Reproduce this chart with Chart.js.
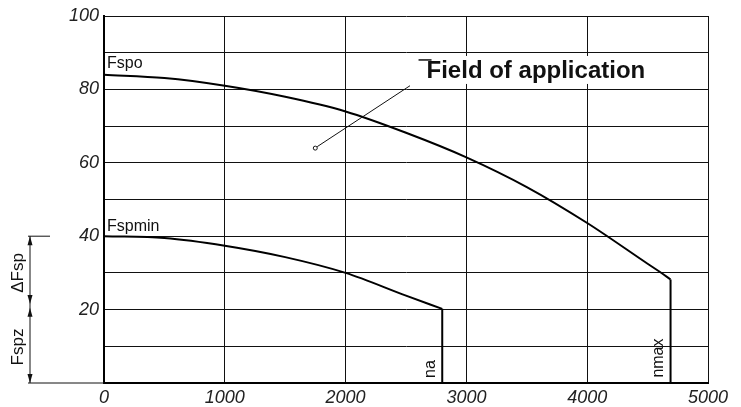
<!DOCTYPE html>
<html>
<head>
<meta charset="utf-8">
<script src="https://cdn.jsdelivr.net/npm/chart.js@4"></script>
<style>
  html, body { margin: 0; padding: 0; background: #fff; }
  #wrap { width: 741px; height: 407px; }
</style>
</head>
<body>
<div id="wrap"><canvas id="chart" width="741" height="407"></canvas></div>
<script>
// Speed n (x) and spring force Fsp (y)
const fspoSpeed = [0, 500, 1000, 1500, 2000, 2500, 3000, 3500, 4000, 4500, 4600, 4690];
const fspoForce = [84, 83.1, 81, 78, 74, 68.2, 61.5, 53.4, 43.6, 32.5, 30.3, 28.2];
const fspminSpeed = [0, 500, 1000, 1500, 2000, 2500, 2800];
const fspminForce = [40, 39.5, 37.4, 34.3, 30, 23.8, 20.2];
// vertical limits: nmax and na drop to the axis
const nmaxDrop = [4690, 28.2, 0];
const naDrop = [2800, 20.2, 0];
const xTicks = [0, 1000, 2000, 3000, 4000, 5000];
const yTicks = [20, 40, 60, 80, 100];

const toPoints = (xs, ys) => xs.map((x, i) => ({ x: x, y: ys[i] }));
const dropPoints = d => [{ x: d[0], y: d[1] }, { x: d[0], y: d[2] }];

// drawing notes: curve names, field label, leader, dimension chain on the left
const notesPlugin = {
    id: 'notes',
    afterDraw(chart) {
        const ctx = chart.ctx;
        const xs = chart.scales.x;
        const ys = chart.scales.y;
        const px = v => xs.getPixelForValue(v);
        const py = v => ys.getPixelForValue(v);
        ctx.save();
        ctx.fillStyle = '#111';
        ctx.strokeStyle = '#111';

        // curve names
        ctx.font = '16px "Liberation Sans", Arial, sans-serif';
        ctx.textBaseline = 'middle';
        ctx.textAlign = 'left';
        ctx.fillText('Fspo', px(25), py(87));
        ctx.fillText('Fspmin', px(25), py(42.6));

        // field of application label on a white patch
        ctx.font = 'bold 24px "Liberation Sans", Arial, sans-serif';
        const label = 'Field of application';
        const lx = px(2670), ly = py(85.3);
        const w = ctx.measureText(label).width;
        ctx.fillStyle = '#fff';
        ctx.fillRect(lx - 6, ly - 14, w + 26, 28);
        ctx.fillStyle = '#111';
        ctx.fillText(label, lx, ly + 1);
        ctx.lineWidth = 1.5;
        ctx.beginPath();
        ctx.moveTo(lx - 8, ly - 10);
        ctx.lineTo(lx + 5, ly - 10);
        ctx.stroke();

        // leader line with small circle
        ctx.lineWidth = 1;
        ctx.beginPath();
        ctx.moveTo(px(2533), py(81));
        ctx.lineTo(px(1765), py(64.4));
        ctx.stroke();
        ctx.beginPath();
        ctx.arc(px(1749), py(64), 2, 0, Math.PI * 2);
        ctx.stroke();

        // rotated speed marks
        ctx.font = '16px "Liberation Sans", Arial, sans-serif';
        const rot = (t, x, y) => {
            ctx.save();
            ctx.translate(x, y);
            ctx.rotate(-Math.PI / 2);
            ctx.textAlign = 'center';
            ctx.textBaseline = 'middle';
            ctx.fillText(t, 0, 0);
            ctx.restore();
        };
        rot('na', px(2700), py(3.8));
        rot('nmax', px(4590), py(6.8));

        // dimension chain: Fspz (0..20) and ΔFsp (20..40)
        const dx = 30;
        ctx.lineWidth = 1;
        ctx.beginPath();
        ctx.moveTo(28, py(40)); ctx.lineTo(50, py(40));
        ctx.moveTo(28, py(0)); ctx.lineTo(xs.left, py(0));
        ctx.moveTo(dx, py(40)); ctx.lineTo(dx, py(0));
        ctx.stroke();
        const arrow = (y, dir) => {
            ctx.beginPath();
            ctx.moveTo(dx, y);
            ctx.lineTo(dx - 2.5, y + dir * 9);
            ctx.lineTo(dx + 2.5, y + dir * 9);
            ctx.closePath();
            ctx.fill();
        };
        arrow(py(40), 1);
        arrow(py(21.5), -1);
        arrow(py(20.5), 1);
        arrow(py(0), -1);
        ctx.font = '17px "Liberation Sans", Arial, sans-serif';
        rot('\u0394Fsp', 18, py(30));
        rot('Fspz', 18, py(9.8));
        ctx.restore();
    }
};

const tickFont = { family: '"Liberation Sans", Arial, sans-serif', size: 18, style: 'italic' };
const lineStyle = { showLine: true, borderColor: '#000', borderWidth: 2, pointRadius: 0 };

new Chart(document.getElementById('chart'), {
    type: 'scatter',
    data: {
        datasets: [
            Object.assign({ label: 'Fspo', data: toPoints(fspoSpeed, fspoForce), cubicInterpolationMode: 'monotone' }, lineStyle),
            Object.assign({ label: 'Fspmin', data: toPoints(fspminSpeed, fspminForce), cubicInterpolationMode: 'monotone' }, lineStyle),
            Object.assign({ label: 'nmax', data: dropPoints(nmaxDrop), tension: 0 }, lineStyle),
            Object.assign({ label: 'na', data: dropPoints(naDrop), tension: 0 }, lineStyle)
        ]
    },
    options: {
        responsive: false,
        animation: false,
        layout: { padding: { top: 16, right: 33, left: 0, bottom: 0 } },
        plugins: {
            legend: { display: false },
            tooltip: { enabled: false }
        },
        scales: {
            x: {
                type: 'linear',
                min: 0,
                max: 5000,
                afterBuildTicks: scale => { scale.ticks = xTicks.map(v => ({ value: v })); },
                afterFit: scale => { scale.height = 24; },
                ticks: {
                    font: tickFont,
                    color: '#222',
                    padding: 4,
                    maxRotation: 0,
                    callback: v => String(v)
                },
                grid: { color: '#111', lineWidth: 1, drawTicks: false },
                border: { color: '#000', width: 2 }
            },
            y: {
                min: 0,
                max: 100,
                afterBuildTicks: scale => {
                    const t = [];
                    for (let v = 0; v <= 100; v += 10) t.push({ value: v });
                    scale.ticks = t;
                },
                afterFit: scale => { scale.width = 104; },
                ticks: {
                    font: tickFont,
                    color: '#222',
                    padding: 5,
                    callback: v => (yTicks.includes(v) ? String(v) : '')
                },
                grid: { color: '#111', lineWidth: 1, drawTicks: false },
                border: { color: '#000', width: 2 }
            }
        }
    },
    plugins: [notesPlugin]
});
</script>
</body>
</html>
